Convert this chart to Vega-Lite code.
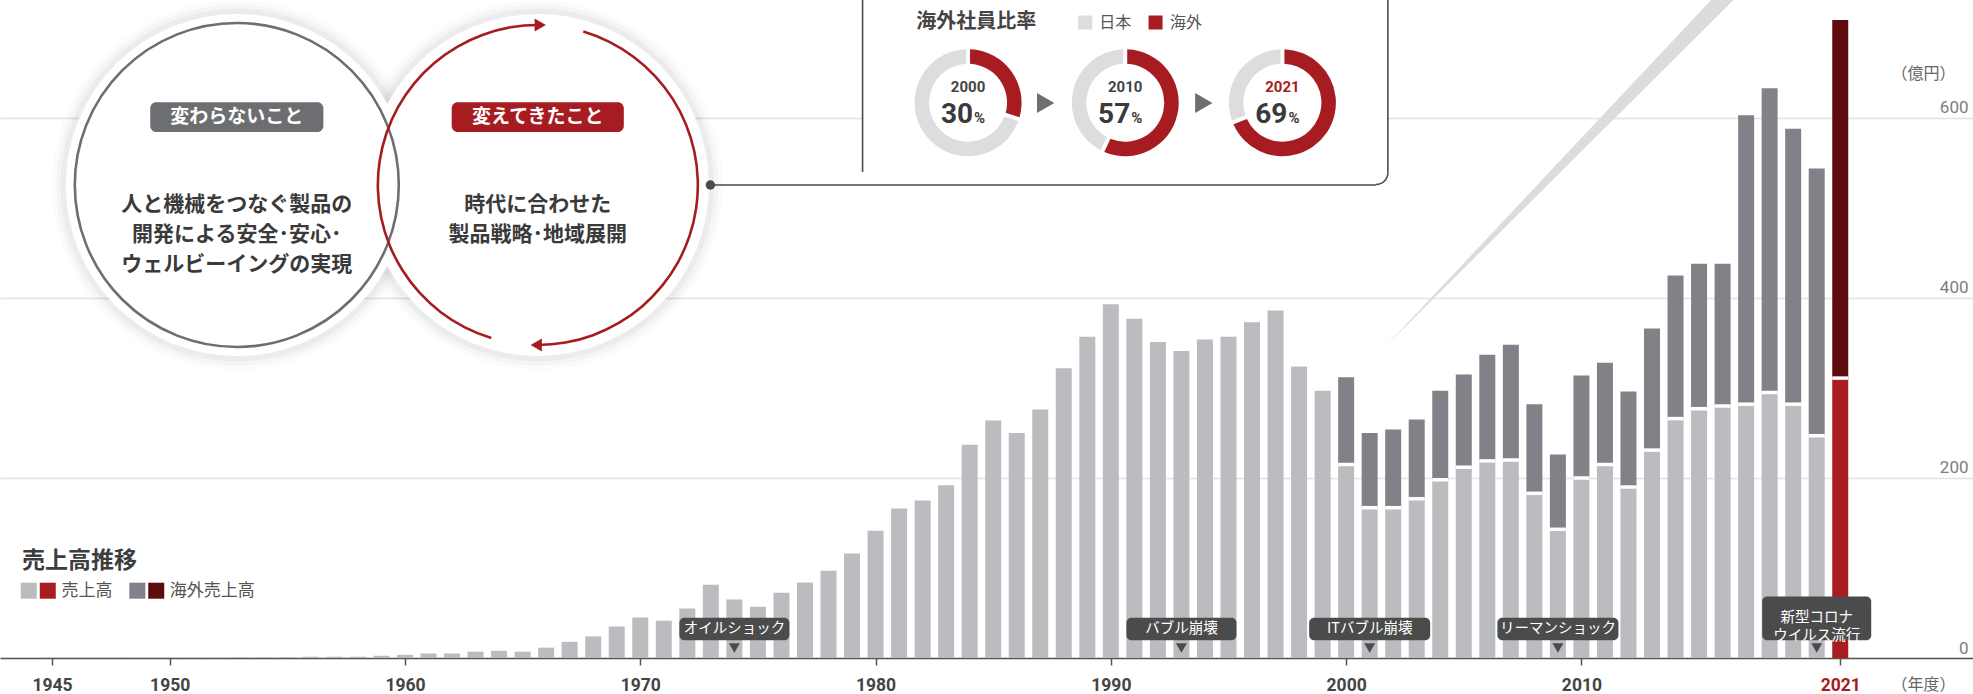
{
"$schema": "https://vega.github.io/schema/vega-lite/v6.json",
"width": 1973,
"height": 658,
"autosize": {"type": "none"},
"padding": {"left": 0, "top": 0, "right": 0, "bottom": 36},
"background": "#ffffff",
"config": {"view": {"stroke": null}, "font": "Noto Sans CJK JP"},
"data": {"values": [{"chart": "売上高推移"}]},
"datasets": {
"sales": [
{"year":1945,"domestic":0.5},{"year":1946,"domestic":0.5},{"year":1947,"domestic":0.5},{"year":1948,"domestic":0.5},{"year":1949,"domestic":0.5},{"year":1950,"domestic":0.5},{"year":1951,"domestic":0.5},{"year":1952,"domestic":0.5},{"year":1953,"domestic":0.8},{"year":1954,"domestic":0.8},{"year":1955,"domestic":1},
{"year":1956,"domestic":1.5},{"year":1957,"domestic":1.5},{"year":1958,"domestic":1.5},{"year":1959,"domestic":2.5},{"year":1960,"domestic":3.5},{"year":1961,"domestic":5},{"year":1962,"domestic":5},{"year":1963,"domestic":7},{"year":1964,"domestic":8},{"year":1965,"domestic":7},
{"year":1966,"domestic":11.5},{"year":1967,"domestic":18},{"year":1968,"domestic":24},{"year":1969,"domestic":35},{"year":1970,"domestic":45},{"year":1971,"domestic":41.5},{"year":1972,"domestic":55},{"year":1973,"domestic":81.5},{"year":1974,"domestic":65},{"year":1975,"domestic":57},
{"year":1976,"domestic":72.5},{"year":1977,"domestic":84},{"year":1978,"domestic":97},{"year":1979,"domestic":116},{"year":1980,"domestic":141.5},{"year":1981,"domestic":166},{"year":1982,"domestic":175},{"year":1983,"domestic":192},{"year":1984,"domestic":237},{"year":1985,"domestic":264},
{"year":1986,"domestic":250},{"year":1987,"domestic":276},{"year":1988,"domestic":322},{"year":1989,"domestic":357},{"year":1990,"domestic":393},{"year":1991,"domestic":377},{"year":1992,"domestic":351},{"year":1993,"domestic":341},{"year":1994,"domestic":354},{"year":1995,"domestic":357},
{"year":1996,"domestic":373},{"year":1997,"domestic":386},{"year":1998,"domestic":324},{"year":1999,"domestic":297},
{"year":2000,"domestic":215,"total":312},{"year":2001,"domestic":167,"total":250},{"year":2002,"domestic":167,"total":254},{"year":2003,"domestic":177,"total":265},{"year":2004,"domestic":198,"total":297},{"year":2005,"domestic":212,"total":315},
{"year":2006,"domestic":219,"total":337},{"year":2007,"domestic":220,"total":348},{"year":2008,"domestic":183,"total":282},{"year":2009,"domestic":143,"total":226},{"year":2010,"domestic":200,"total":314},{"year":2011,"domestic":215,"total":328},
{"year":2012,"domestic":190,"total":296},{"year":2013,"domestic":231,"total":366},{"year":2014,"domestic":266,"total":425},{"year":2015,"domestic":277,"total":438},{"year":2016,"domestic":280,"total":438},{"year":2017,"domestic":282,"total":603},
{"year":2018,"domestic":295,"total":633},{"year":2019,"domestic":282,"total":588},{"year":2020,"domestic":247,"total":544},{"year":2021,"domestic":311,"total":709}
],
"events": [
{"year":1974,"label":"オイルショック"},{"year":1993,"label":"バブル崩壊"},{"year":2001,"label":"ITバブル崩壊"},{"year":2009,"label":"リーマンショック"},{"year":2020,"label":"新型コロナ\nウイルス流行"}
],
"ratios": [
{"year":2000,"region":"海外","pct":30},{"year":2000,"region":"日本","pct":70},
{"year":2010,"region":"海外","pct":57},{"year":2010,"region":"日本","pct":43},
{"year":2021,"region":"海外","pct":69},{"year":2021,"region":"日本","pct":31}
],
"notes": [
{"key":"unchanged","title":"変わらないこと","body":"人と機械をつなぐ製品の\n開発による安全･安心･\nウェルビーイングの実現"},
{"key":"changed","title":"変えてきたこと","body":"時代に合わせた\n製品戦略･地域展開"}
]
},
"layer": [
{"mark":{"type":"point","shape":"M0,0 L3.91,-4.16 L4.18,-4.16 Z","size":40000,"filled":true,"color":"#dcdcde","opacity":1,"strokeWidth":0},
 "encoding":{"x":{"datum":2001.648},"y":{"datum":345.56}}},

{"data":{"name":"sales"},"mark":{"type":"bar","width":16},
 "encoding":{
  "x":{"field":"year","type":"quantitative","scale":{"domain":[1943,2026.43],"nice":false,"zero":false},
   "axis":{"values":[1945,1950,1960,1970,1980,1990,2000,2010,2021],"format":"d","grid":false,"domainColor":"#555555","domainWidth":1.5,"tickColor":"#555555","tickWidth":1.5,"tickSize":7,"labelPadding":11,"labelFont":"Roboto","labelFontSize":17.5,"labelFontWeight":"bold","labelColor":{"condition":{"test":"datum.value === 2021","value":"#a61c21"},"value":"#444444"},"labelFlush":false,"labelOverlap":false,"title":"（年度）","titleX":1955,"titleY":31,"titleAlign":"right","titleBaseline":"alphabetic","titleFont":"Noto Sans CJK JP","titleFontSize":16,"titleFontWeight":"normal","titleColor":"#666666"}},
  "y":{"field":"domestic","type":"quantitative","scale":{"domain":[0,731.1],"nice":false,"zero":false},
   "axis":{"orient":"right","values":[0,200,400,600],"grid":true,"gridColor":"#e2e2e2","gridWidth":1.5,"domain":false,"ticks":false,"tickSize":0,"labelAlign":"right","labelBaseline":"alphabetic","labelOffset":-5,"labelPadding":-5,"labelFont":"Roboto","labelFontSize":17,"labelColor":"#7d7d7d","labelFlush":false,"labelOverlap":false,"title":"（億円）","titleAngle":0,"titleX":-18,"titleY":78,"titleAlign":"right","titleBaseline":"alphabetic","titleFont":"Noto Sans CJK JP","titleFontSize":16,"titleFontWeight":"normal","titleColor":"#666666"}},
  "color":{"condition":{"test":"datum.year === 2021","value":"#a81d22"},"value":"#bbbcc0"}}},

{"data":{"name":"sales"},"transform":[{"filter":"isValid(datum.total)"}],"mark":{"type":"bar","width":16},
 "encoding":{"x":{"field":"year","type":"quantitative"},"y":{"field":"domestic","type":"quantitative"},"y2":{"field":"total"},
  "color":{"condition":{"test":"datum.year === 2021","value":"#5e0b0f"},"value":"#818287"}}},

{"data":{"name":"sales"},"transform":[{"filter":"isValid(datum.total)"}],"mark":{"type":"tick","orient":"horizontal","size":16,"thickness":3.5,"color":"#ffffff","opacity":1},
 "encoding":{"x":{"field":"year","type":"quantitative"},"y":{"field":"domestic","type":"quantitative"}}},

{"data":{"name":"events"},"transform":[{"filter":"datum.year == 1974 || datum.year == 1993"}],"mark":{"type":"bar","width":110,"color":"#4b4b4b","cornerRadius":5},
 "encoding":{"x":{"field":"year","type":"quantitative"},"y":{"datum":19.67},"y2":{"datum":44.78}}},
{"data":{"name":"events"},"transform":[{"filter":"datum.year == 2001 || datum.year == 2009"}],"mark":{"type":"bar","width":121,"color":"#4b4b4b","cornerRadius":5},
 "encoding":{"x":{"field":"year","type":"quantitative"},"y":{"datum":19.67},"y2":{"datum":44.78}}},
{"data":{"name":"events"},"transform":[{"filter":"datum.year == 2020"}],"mark":{"type":"bar","width":109,"color":"#4b4b4b","cornerRadius":5},
 "encoding":{"x":{"field":"year","type":"quantitative"},"y":{"datum":19.67},"y2":{"datum":68.44}}},
{"data":{"name":"events"},"transform":[{"filter":"datum.year != 2020"}],"mark":{"type":"text","color":"#ffffff","fontSize":14.5,"font":"Noto Sans CJK JP","align":"center","baseline":"middle"},
 "encoding":{"x":{"field":"year","type":"quantitative"},"y":{"datum":32.2},"text":{"field":"label"}}},
{"data":{"name":"events"},"transform":[{"filter":"datum.year == 2020"}],"mark":{"type":"text","color":"#ffffff","fontSize":14.5,"font":"Noto Sans CJK JP","align":"center","baseline":"middle","lineBreak":"\n","lineHeight":18},
 "encoding":{"x":{"field":"year","type":"quantitative"},"y":{"datum":43.9},"text":{"field":"label"}}},
{"data":{"name":"events"},"mark":{"type":"point","shape":"triangle-down","size":121,"filled":true,"color":"#4b4b4b","opacity":1,"strokeWidth":0},
 "encoding":{"x":{"field":"year","type":"quantitative"},"y":{"datum":11.1}}},

{"mark":{"type":"point","shape":"circle","size":136900,"filled":true,"color":"#000000","opacity":0.015,"strokeWidth":0},"encoding":{"x":{"datum":1952.852},"y":{"datum":525.56}}},
{"mark":{"type":"point","shape":"circle","size":136900,"filled":true,"color":"#000000","opacity":0.015,"strokeWidth":0},"encoding":{"x":{"datum":1965.647},"y":{"datum":525.56}}},
{"mark":{"type":"point","shape":"circle","size":130321,"filled":true,"color":"#000000","opacity":0.025,"strokeWidth":0},"encoding":{"x":{"datum":1952.852},"y":{"datum":525.56}}},
{"mark":{"type":"point","shape":"circle","size":130321,"filled":true,"color":"#000000","opacity":0.025,"strokeWidth":0},"encoding":{"x":{"datum":1965.647},"y":{"datum":525.56}}},
{"mark":{"type":"point","shape":"circle","size":124609,"filled":true,"color":"#000000","opacity":0.035,"strokeWidth":0},"encoding":{"x":{"datum":1952.852},"y":{"datum":525.56}}},
{"mark":{"type":"point","shape":"circle","size":124609,"filled":true,"color":"#000000","opacity":0.035,"strokeWidth":0},"encoding":{"x":{"datum":1965.647},"y":{"datum":525.56}}},
{"mark":{"type":"point","shape":"circle","size":116964,"filled":true,"color":"#ffffff","opacity":1,"strokeWidth":0},"encoding":{"x":{"datum":1952.852},"y":{"datum":525.56}}},
{"mark":{"type":"point","shape":"circle","size":116964,"filled":true,"color":"#ffffff","opacity":1,"strokeWidth":0},"encoding":{"x":{"datum":1965.647},"y":{"datum":525.56}}},
{"mark":{"type":"point","shape":"circle","size":104976,"filled":false,"color":"#6d6e71","opacity":1,"strokeWidth":2.6},"encoding":{"x":{"datum":1952.852},"y":{"datum":525.56}}},
{"mark":{"type":"arc","theta":0.288,"theta2":3.147,"innerRadius":158.7,"outerRadius":161.3,"color":"#a61c21"},"encoding":{"x":{"datum":1965.647},"y":{"datum":525.56}}},
{"mark":{"type":"arc","theta":3.437,"theta2":6.29,"innerRadius":158.7,"outerRadius":161.3,"color":"#a61c21"},"encoding":{"x":{"datum":1965.647},"y":{"datum":525.56}}},
{"mark":{"type":"point","shape":"triangle-right","size":169,"filled":true,"color":"#a61c21","opacity":1,"strokeWidth":0},"encoding":{"x":{"datum":1965.748},"y":{"datum":703.33}}},
{"mark":{"type":"point","shape":"triangle-left","size":169,"filled":true,"color":"#a61c21","opacity":1,"strokeWidth":0},"encoding":{"x":{"datum":1965.579},"y":{"datum":347.78}}},

{"mark":{"type":"rect","color":"#6d6e71","cornerRadius":6},"encoding":{"x":{"datum":1949.173},"x2":{"datum":1956.531},"y":{"datum":584.44},"y2":{"datum":617.44}}},
{"mark":{"type":"rect","color":"#a61c21","cornerRadius":6},"encoding":{"x":{"datum":1961.985},"x2":{"datum":1969.3},"y":{"datum":584.44},"y2":{"datum":617.44}}},
{"data":{"name":"notes"},"transform":[{"filter":"datum.key == 'unchanged'"}],"mark":{"type":"text","color":"#ffffff","fontSize":19,"fontWeight":"bold","align":"center","baseline":"middle"},"encoding":{"x":{"datum":1952.852},"y":{"datum":601.1},"text":{"field":"title"}}},
{"data":{"name":"notes"},"transform":[{"filter":"datum.key == 'changed'"}],"mark":{"type":"text","color":"#ffffff","fontSize":19,"fontWeight":"bold","align":"center","baseline":"middle"},"encoding":{"x":{"datum":1965.647},"y":{"datum":601.1},"text":{"field":"title"}}},
{"data":{"name":"notes"},"transform":[{"filter":"datum.key == 'unchanged'"}],"mark":{"type":"text","color":"#3a3a3a","fontSize":21,"fontWeight":"bold","align":"center","baseline":"middle","lineBreak":"\n","lineHeight":30},"encoding":{"x":{"datum":1952.852},"y":{"datum":503.33},"text":{"field":"body"}}},
{"data":{"name":"notes"},"transform":[{"filter":"datum.key == 'changed'"}],"mark":{"type":"text","color":"#3a3a3a","fontSize":21,"fontWeight":"bold","align":"center","baseline":"middle","lineBreak":"\n","lineHeight":30},"encoding":{"x":{"datum":1965.647},"y":{"datum":503.33},"text":{"field":"body"}}},

{"mark":{"type":"rect","color":"#ffffff","cornerRadius":12},"encoding":{"x":{"datum":1979.448},"x2":{"datum":2001.774},"y":{"datum":525.56},"y2":{"datum":731.1}}},
{"mark":{"type":"rule","color":"#4a4a4a","strokeWidth":1.6},"encoding":{"x":{"datum":1979.448},"y":{"datum":540},"y2":{"datum":731.1}}},
{"mark":{"type":"rule","color":"#4a4a4a","strokeWidth":1.6},"encoding":{"x":{"datum":2001.774},"y":{"datum":539.44},"y2":{"datum":731.1}}},
{"mark":{"type":"rule","color":"#4a4a4a","strokeWidth":1.6},"encoding":{"x":{"datum":1972.979},"x2":{"datum":2001.267},"y":{"datum":525.56}}},
{"mark":{"type":"arc","theta":1.5708,"theta2":3.1416,"innerRadius":11.2,"outerRadius":12.8,"color":"#4a4a4a"},"encoding":{"x":{"datum":2001.267},"y":{"datum":539.44}}},
{"mark":{"type":"point","shape":"circle","size":90,"filled":true,"color":"#4a4a4a","opacity":1,"strokeWidth":0},"encoding":{"x":{"datum":1972.979},"y":{"datum":525.56}}},

{"mark":{"type":"text","text":"海外社員比率","color":"#444444","fontSize":20,"fontWeight":"bold","align":"left","baseline":"middle"},"encoding":{"x":{"datum":1981.732},"y":{"datum":707.0}}},
{"mark":{"type":"point","shape":"square","size":196,"filled":true,"color":"#dcdddf","opacity":1,"strokeWidth":0},"encoding":{"x":{"datum":1988.911},"y":{"datum":706.1}}},
{"mark":{"type":"text","text":"日本","color":"#555555","fontSize":16,"align":"left","baseline":"middle"},"encoding":{"x":{"datum":1989.512},"y":{"datum":706.1}}},
{"mark":{"type":"point","shape":"square","size":196,"filled":true,"color":"#a61c21","opacity":1,"strokeWidth":0},"encoding":{"x":{"datum":1991.9},"y":{"datum":706.1}}},
{"mark":{"type":"text","text":"海外","color":"#555555","fontSize":16,"align":"left","baseline":"middle"},"encoding":{"x":{"datum":1992.514},"y":{"datum":706.1}}},

{"data":{"name":"ratios"},"transform":[{"filter":"datum.year == 2000"},{"stack":"pct","groupby":["year"],"sort":[{"field":"region","order":"descending"}],"as":["t0","t1"]}],
 "mark":{"type":"arc","innerRadius":39,"outerRadius":53.5,"padAngle":0.06},
 "encoding":{"x":{"datum":1983.931},"y":{"datum":617.0},"theta":{"field":"t0","type":"quantitative","stack":null,"scale":{"domain":[0,100],"range":[0,6.2832]}},"theta2":{"field":"t1"},
  "color":{"field":"region","type":"nominal","scale":{"domain":["日本","海外"],"range":["#dcdddf","#a61c21"]},"legend":null}}},
{"data":{"name":"ratios"},"transform":[{"filter":"datum.year == 2010"},{"stack":"pct","groupby":["year"],"sort":[{"field":"region","order":"descending"}],"as":["t0","t1"]}],
 "mark":{"type":"arc","innerRadius":39,"outerRadius":53.5,"padAngle":0.06},
 "encoding":{"x":{"datum":1990.611},"y":{"datum":617.0},"theta":{"field":"t0","type":"quantitative","stack":null},"theta2":{"field":"t1"},
  "color":{"field":"region","type":"nominal","legend":null}}},
{"data":{"name":"ratios"},"transform":[{"filter":"datum.year == 2021"},{"stack":"pct","groupby":["year"],"sort":[{"field":"region","order":"descending"}],"as":["t0","t1"]}],
 "mark":{"type":"arc","innerRadius":39,"outerRadius":53.5,"padAngle":0.06},
 "encoding":{"x":{"datum":1997.292},"y":{"datum":617.0},"theta":{"field":"t0","type":"quantitative","stack":null},"theta2":{"field":"t1"},
  "color":{"field":"region","type":"nominal","legend":null}}},

{"data":{"name":"ratios"},"transform":[{"filter":"datum.year == 2000 && datum.region == '海外'"}],"mark":{"type":"text","font":"Roboto","fontSize":15,"fontWeight":"bold","color":"#444444","align":"center","baseline":"middle"},"encoding":{"x":{"datum":1983.931},"y":{"datum":634.78},"text":{"field":"year","type":"quantitative","format":"d"}}},
{"data":{"name":"ratios"},"transform":[{"filter":"datum.year == 2010 && datum.region == '海外'"}],"mark":{"type":"text","font":"Roboto","fontSize":15,"fontWeight":"bold","color":"#444444","align":"center","baseline":"middle"},"encoding":{"x":{"datum":1990.611},"y":{"datum":634.78},"text":{"field":"year","type":"quantitative","format":"d"}}},
{"data":{"name":"ratios"},"transform":[{"filter":"datum.year == 2021 && datum.region == '海外'"}],"mark":{"type":"text","font":"Roboto","fontSize":15,"fontWeight":"bold","color":"#a61c21","align":"center","baseline":"middle"},"encoding":{"x":{"datum":1997.292},"y":{"datum":634.78},"text":{"field":"year","type":"quantitative","format":"d"}}},
{"data":{"name":"ratios"},"transform":[{"filter":"datum.year == 2000 && datum.region == '海外'"}],"mark":{"type":"text","font":"Roboto","fontSize":28,"fontWeight":"bold","color":"#3a3a3a","align":"right","baseline":"alphabetic","dx":5},"encoding":{"x":{"datum":1983.931},"y":{"datum":594.78},"text":{"field":"pct","type":"quantitative"}}},
{"data":{"name":"ratios"},"transform":[{"filter":"datum.year == 2010 && datum.region == '海外'"}],"mark":{"type":"text","font":"Roboto","fontSize":28,"fontWeight":"bold","color":"#3a3a3a","align":"right","baseline":"alphabetic","dx":5},"encoding":{"x":{"datum":1990.611},"y":{"datum":594.78},"text":{"field":"pct","type":"quantitative"}}},
{"data":{"name":"ratios"},"transform":[{"filter":"datum.year == 2021 && datum.region == '海外'"}],"mark":{"type":"text","font":"Roboto","fontSize":28,"fontWeight":"bold","color":"#3a3a3a","align":"right","baseline":"alphabetic","dx":5},"encoding":{"x":{"datum":1997.292},"y":{"datum":594.78},"text":{"field":"pct","type":"quantitative"}}},
{"mark":{"type":"text","text":"%","font":"Roboto","fontSize":15,"fontWeight":"bold","color":"#3a3a3a","align":"left","baseline":"alphabetic","dx":6},"encoding":{"x":{"datum":1983.931},"y":{"datum":594.78}}},
{"mark":{"type":"text","text":"%","font":"Roboto","fontSize":15,"fontWeight":"bold","color":"#3a3a3a","align":"left","baseline":"alphabetic","dx":6},"encoding":{"x":{"datum":1990.611},"y":{"datum":594.78}}},
{"mark":{"type":"text","text":"%","font":"Roboto","fontSize":15,"fontWeight":"bold","color":"#3a3a3a","align":"left","baseline":"alphabetic","dx":6},"encoding":{"x":{"datum":1997.292},"y":{"datum":594.78}}},
{"mark":{"type":"point","shape":"triangle-right","size":400,"filled":true,"color":"#6d6e71","opacity":1,"strokeWidth":0},"encoding":{"x":{"datum":1987.229},"y":{"datum":616.67}}},
{"mark":{"type":"point","shape":"triangle-right","size":400,"filled":true,"color":"#6d6e71","opacity":1,"strokeWidth":0},"encoding":{"x":{"datum":1993.951},"y":{"datum":616.67}}},

{"mark":{"type":"text","text":"売上高推移","color":"#3d3d3d","fontSize":23,"fontWeight":"bold","align":"left","baseline":"alphabetic"},"encoding":{"x":{"datum":1943.719},"y":{"datum":100}}},
{"mark":{"type":"point","shape":"square","size":256,"filled":true,"color":"#bbbcc0","opacity":1,"strokeWidth":0},"encoding":{"x":{"datum":1944.011},"y":{"datum":74.78}}},
{"mark":{"type":"point","shape":"square","size":256,"filled":true,"color":"#a81d22","opacity":1,"strokeWidth":0},"encoding":{"x":{"datum":1944.818},"y":{"datum":74.78}}},
{"mark":{"type":"text","text":"売上高","color":"#555555","fontSize":17,"align":"left","baseline":"middle"},"encoding":{"x":{"datum":1945.397},"y":{"datum":74.78}}},
{"mark":{"type":"point","shape":"square","size":256,"filled":true,"color":"#818287","opacity":1,"strokeWidth":0},"encoding":{"x":{"datum":1948.624},"y":{"datum":74.78}}},
{"mark":{"type":"point","shape":"square","size":256,"filled":true,"color":"#5e0b0f","opacity":1,"strokeWidth":0},"encoding":{"x":{"datum":1949.427},"y":{"datum":74.78}}},
{"mark":{"type":"text","text":"海外売上高","color":"#555555","fontSize":17,"align":"left","baseline":"middle"},"encoding":{"x":{"datum":1950.006},"y":{"datum":74.78}}}
]
}
